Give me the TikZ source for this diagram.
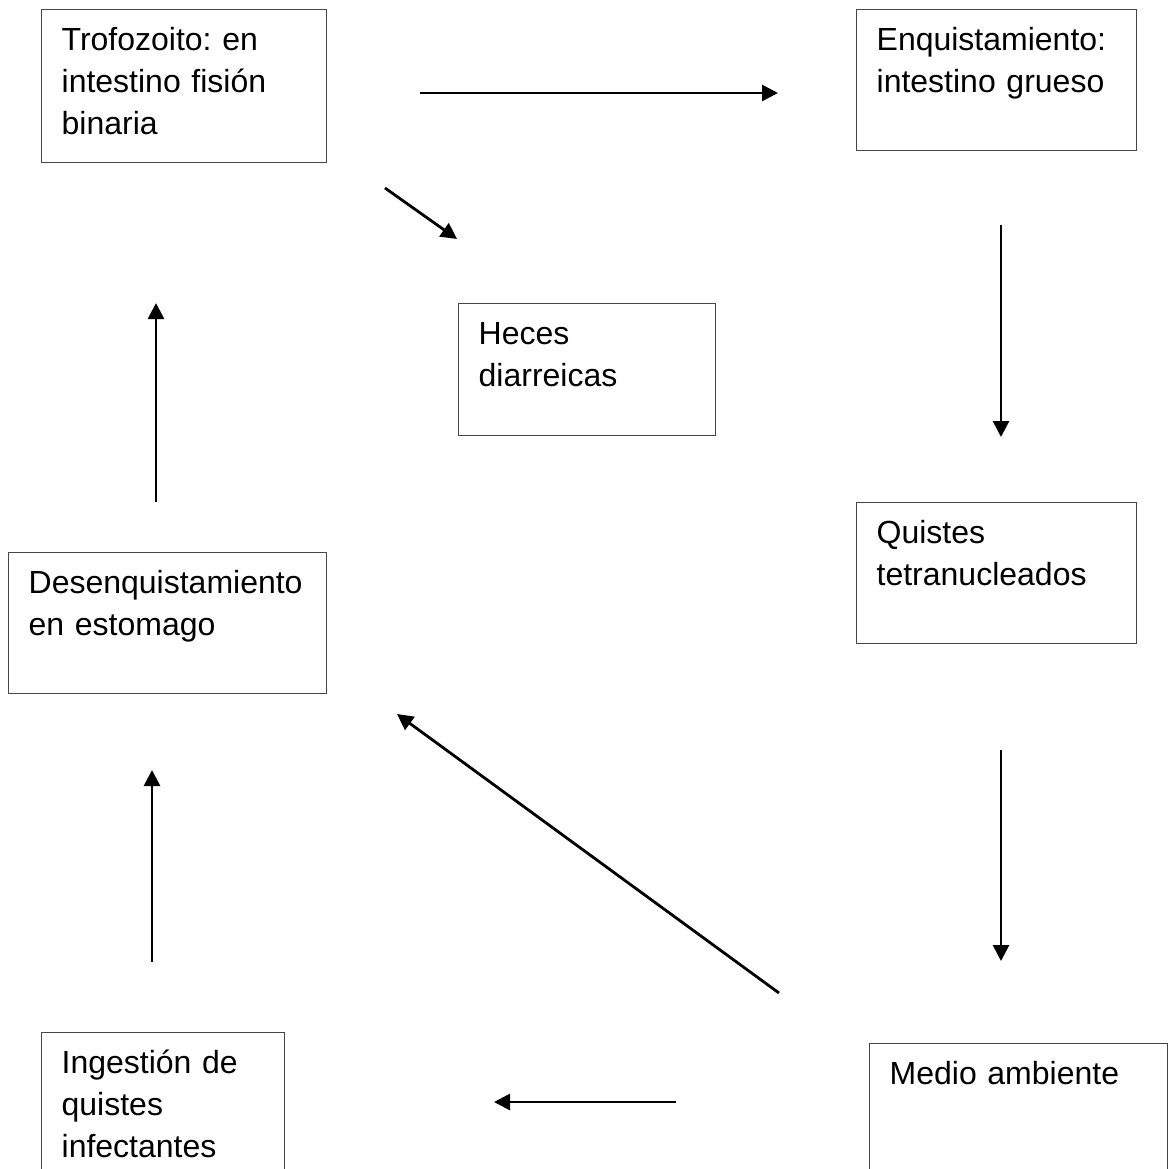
\documentclass[tikz,border=0pt]{standalone}
\usepackage{fontspec}
\setmainfont{Liberation Sans}
\usepackage{tikz}
\usetikzlibrary{positioning,arrows.meta}
\frenchspacing
\definecolor{lcGray}{RGB}{70,70,70}
\tikzset{
    base/.style={font=\fontsize{16pt}{21pt}\selectfont, align=left},
    stage/.style={base, rectangle, draw=lcGray, line width=0.65pt, anchor=north west,
                  inner xsep=10pt, inner ysep=0pt, text height=20.5pt},
    flow/.style={-{Triangle[length=8pt, width=8pt]}, line width=1.4pt, color=black}
}
\begin{document}
\begin{tikzpicture}[x=0.5pt, y=-0.5pt]
  \useasboundingbox (0,0) rectangle (1172,1168);

  % Stages
  \node[stage, text width=122.5pt, text depth=56pt] (trofo) at (41,9)
    {Trofozoito: en\\intestino fisión\\binaria};
  \node[stage, text width=120pt, text depth=50pt] (enquist) at (856,9)
    {Enquistamiento:\\intestino grueso};
  \node[stage, text width=108.5pt, text depth=45.5pt] (heces) at (458,303)
    {Heces\\diarreicas};
  \node[stage, text width=139pt, text depth=50pt] (desenq) at (8,552)
    {Desenquistamiento\\en estomago};
  \node[stage, text width=120pt, text depth=50pt] (quistes) at (856,502)
    {Quistes\\tetranucleados};
  \node[stage, text width=101.5pt, text depth=70pt] (ingest) at (41,1032)
    {Ingestión de\\quistes\\infectantes};
  \node[stage, text width=129pt, text depth=60pt] (medio) at (869,1043)
    {Medio ambiente};

  % Arrow ends
  \coordinate (a1s) at (420,93);   \coordinate (a1e) at (778,93);
  \coordinate (a2s) at (385,188);  \coordinate (a2e) at (457,239);
  \coordinate (a3s) at (1001,225); \coordinate (a3e) at (1001,437);
  \coordinate (a4s) at (156,502);  \coordinate (a4e) at (156,303);
  \coordinate (a5s) at (1001,750); \coordinate (a5e) at (1001,961);
  \coordinate (a6s) at (779,993);  \coordinate (a6e) at (397,714);
  \coordinate (a7s) at (152,962);  \coordinate (a7e) at (152,770);
  \coordinate (a8s) at (676,1102); \coordinate (a8e) at (494,1102);

  % Arrows
  \foreach \k in {1,...,8}
    \draw[flow] (a\k s) -- (a\k e);
\end{tikzpicture}
\end{document}
